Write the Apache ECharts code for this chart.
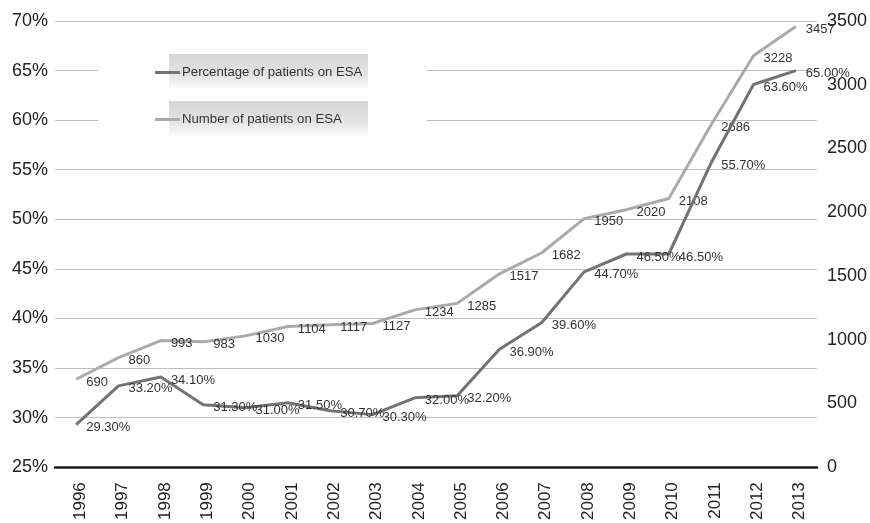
<!DOCTYPE html>
<html>
<head>
<meta charset="utf-8">
<script src="https://cdn.jsdelivr.net/npm/echarts@6/dist/echarts.min.js"></script>
<style>
  html, body { margin: 0; padding: 0; background: #fff; }
  #chart { width: 870px; height: 523px; }
</style>
</head>
<body>
<div id="chart"></div>
<script>
// Years on the category axis
const years = ['1996', '1997', '1998', '1999', '2000', '2001', '2002', '2003', '2004',
  '2005', '2006', '2007', '2008', '2009', '2010', '2011', '2012', '2013'];

// Share of patients receiving ESA (%)
const percentOnESA = [29.3, 33.2, 34.1, 31.3, 31.0, 31.5, 30.7, 30.3, 32.0,
  32.2, 36.9, 39.6, 44.7, 46.5, 46.5, 55.7, 63.6, 65.0];

// Count of patients receiving ESA
const numberOnESA = [690, 860, 993, 983, 1030, 1104, 1117, 1127, 1234,
  1285, 1517, 1682, 1950, 2020, 2108, 2686, 3228, 3457];

const seriesNames = ['Percentage of patients on ESA', 'Number of patients on ESA'];

const FONT = 'Liberation Sans, Arial, Helvetica, sans-serif';
const darkGray = '#737373';
const lightGray = '#aaaaaa';

const chart = echarts.init(document.getElementById('chart'));

// Shaded panel behind each legend entry
const legendBox = (y) => ({
  type: 'rect',
  z: 1,
  shape: { x: 169, y: y, width: 199, height: 36 },
  style: {
    fill: new echarts.graphic.LinearGradient(0, 0, 0, 1, [
      { offset: 0, color: '#d6d6d6' },
      { offset: 0.6, color: '#e4e4e4' },
      { offset: 1, color: '#ffffff' }
    ])
  }
});

const legendFor = (name, top) => ({
  z: 5, left: 150, top: top, orient: 'vertical',
  data: [{ name: name, icon: 'rect' }],
  itemWidth: 25, itemHeight: 3, itemGap: 0,
  textStyle: { fontFamily: FONT, fontSize: 13.2, color: '#333', padding: [0, 0, 0, -3] }
});

// Value labels sit just right of and slightly below each point
const pointLabel = (formatter) => ({
  show: true, position: 'right', distance: 10,
  verticalAlign: 'top', lineHeight: 6,
  formatter: formatter,
  fontFamily: FONT, fontSize: 13, color: '#333'
});

chart.setOption({
  animation: false,
  textStyle: { fontFamily: FONT },
  grid: { left: 55, right: 52, top: 21, bottom: 55, containLabel: false },
  graphic: [
    { type: 'rect', z: 1, shape: { x: 98, y: 48, width: 329, height: 92 }, style: { fill: '#ffffff' } },
    legendBox(54),
    legendBox(101)
  ],
  legend: [
    legendFor(seriesNames[0], 61),
    legendFor(seriesNames[1], 108)
  ],
  xAxis: {
    type: 'category',
    data: years,
    boundaryGap: true,
    axisLine: { show: true, lineStyle: { color: '#1a1a1a', width: 2.5 } },
    axisTick: { show: false },
    axisLabel: {
      interval: 0, rotate: 90, margin: 15,
      verticalAlign: 'top', lineHeight: 8,
      fontFamily: FONT, fontSize: 17, color: '#222'
    },
    splitLine: { show: false }
  },
  yAxis: [
    {
      type: 'value', min: 25, max: 70, interval: 5, position: 'left',
      axisLine: { show: false }, axisTick: { show: false },
      axisLabel: { formatter: '{value}%', fontFamily: FONT, fontSize: 18, color: '#222', margin: 7 },
      splitLine: { show: true, lineStyle: { color: '#bdbdbd', width: 1 } }
    },
    {
      type: 'value', min: 0, max: 3500, interval: 500, position: 'right',
      axisLine: { show: false }, axisTick: { show: false },
      axisLabel: { formatter: (v) => String(v), fontFamily: FONT, fontSize: 18, color: '#222', margin: 10 },
      splitLine: { show: false }
    }
  ],
  series: [
    {
      name: seriesNames[0],
      type: 'line',
      yAxisIndex: 0,
      data: percentOnESA,
      symbol: 'circle',
      symbolSize: 0.1,
      showSymbol: true,
      z: 3,
      itemStyle: { color: darkGray },
      lineStyle: { color: darkGray, width: 3 },
      label: pointLabel((p) => p.value.toFixed(2) + '%'),
      labelLayout: { hideOverlap: false }
    },
    {
      name: seriesNames[1],
      type: 'line',
      yAxisIndex: 1,
      data: numberOnESA,
      symbol: 'circle',
      symbolSize: 0.1,
      showSymbol: true,
      z: 2,
      itemStyle: { color: lightGray },
      lineStyle: { color: lightGray, width: 3 },
      label: pointLabel((p) => String(p.value)),
      labelLayout: { hideOverlap: false }
    }
  ]
});
</script>
</body>
</html>
